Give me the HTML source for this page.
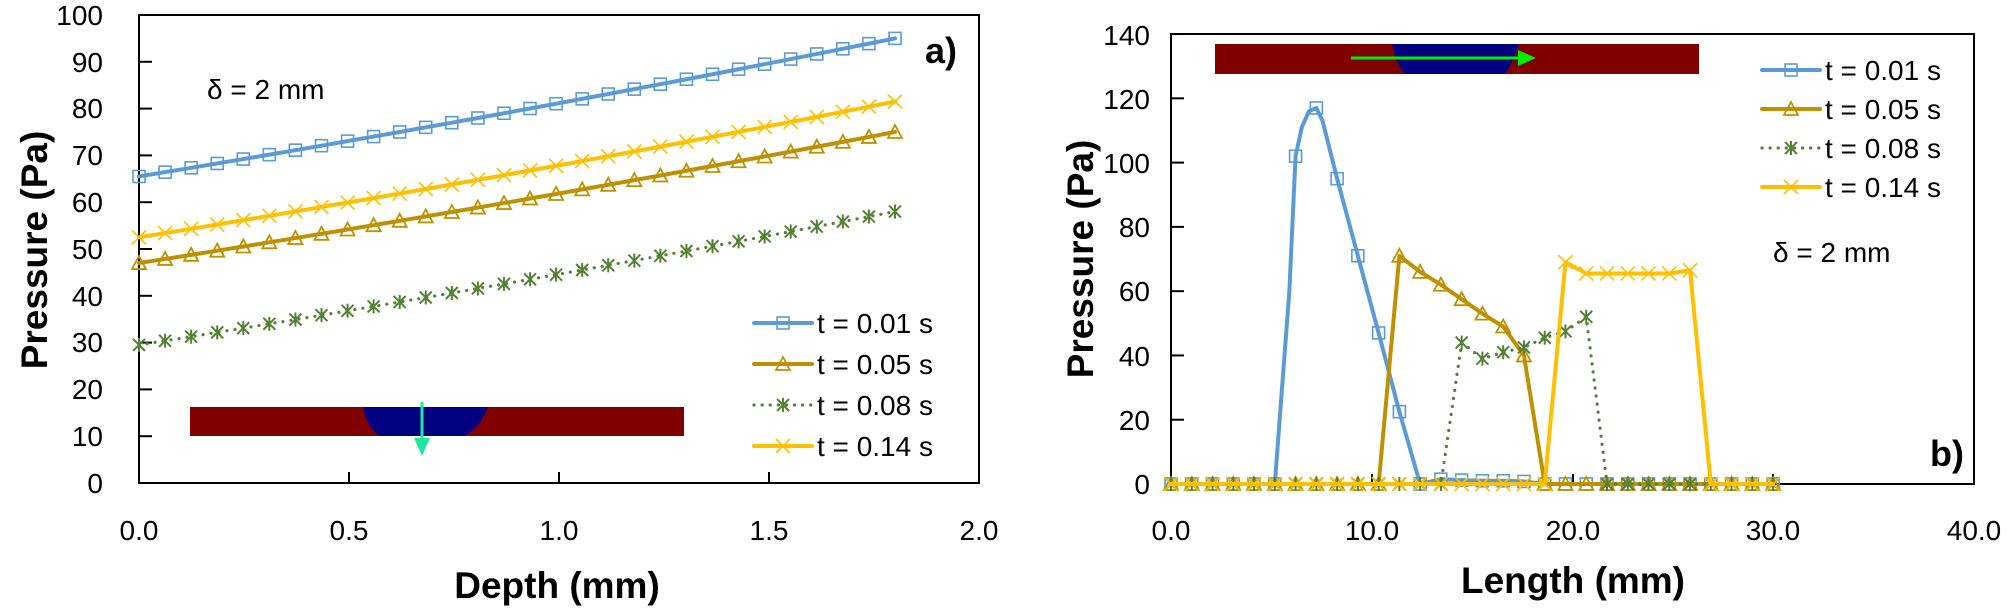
<!DOCTYPE html>
<html><head><meta charset="utf-8">
<style>
html,body{margin:0;padding:0;background:#fff;}
svg{display:block;font-family:"Liberation Sans",Arial,sans-serif;}
.t{font-size:28px;fill:#000;}
.b{font-weight:bold;}
</style></head><body>
<svg id="s" width="2007" height="609" viewBox="0 0 2007 609" xmlns="http://www.w3.org/2000/svg">
<rect width="2007" height="609" fill="#fff"/>
<rect x="139" y="15" width="840" height="468" fill="none" stroke="#000" stroke-width="2"/>
<g id="lt" stroke="#000" stroke-width="2"></g>
<g class="t" text-anchor="end">
<text x="103" y="493">0</text><text x="103" y="446">10</text><text x="103" y="399">20</text><text x="103" y="352">30</text><text x="103" y="306">40</text><text x="103" y="259">50</text><text x="103" y="212">60</text><text x="103" y="165">70</text><text x="103" y="118">80</text><text x="103" y="72">90</text><text x="103" y="25">100</text>
</g>
<g class="t" text-anchor="middle">
<text x="139" y="540">0.0</text><text x="349" y="540">0.5</text><text x="559" y="540">1.0</text><text x="769" y="540">1.5</text><text x="979" y="540">2.0</text>
</g>
<text x="557" y="598" text-anchor="middle" class="b" style="font-size:37px">Depth (mm)</text>
<text transform="translate(47,250) rotate(-90)" text-anchor="middle" class="b" style="font-size:37px">Pressure (Pa)</text>
<text x="207" y="99" class="t">δ = 2 mm</text>
<text x="925" y="63" class="b" style="font-size:36px">a)</text>
<rect x="190" y="407" width="494" height="29" fill="#800000"/>
<path d="M363,407 L488,407 Q480,428 464,436 L380,436 Q367,428 363,407Z" fill="#000080"/>
<line x1="422" y1="402" x2="422" y2="440" stroke="#1ee8a0" stroke-width="3"/>
<path d="M414,438 L430,438 L422,456Z" fill="#1ee8a0"/>
<g id="leg1"></g>
<g class="t">
<text x="817" y="333">t = 0.01 s</text><text x="817" y="374">t = 0.05 s</text><text x="817" y="415">t = 0.08 s</text><text x="817" y="456">t = 0.14 s</text>
</g>
<rect x="1171" y="34" width="803" height="450" fill="none" stroke="#000" stroke-width="2"/>
<g id="rt" stroke="#000" stroke-width="2"></g>
<g class="t" text-anchor="end">
<text x="1150" y="494">0</text><text x="1150" y="430">20</text><text x="1150" y="366">40</text><text x="1150" y="301">60</text><text x="1150" y="237">80</text><text x="1150" y="173">100</text><text x="1150" y="109">120</text><text x="1150" y="45">140</text>
</g>
<g class="t" text-anchor="middle">
<text x="1171" y="540">0.0</text><text x="1372" y="540">10.0</text><text x="1573" y="540">20.0</text><text x="1773" y="540">30.0</text><text x="1974" y="540">40.0</text>
</g>
<text x="1573" y="593" text-anchor="middle" class="b" style="font-size:37px">Length (mm)</text>
<text transform="translate(1093,259) rotate(-90)" text-anchor="middle" class="b" style="font-size:37px">Pressure (Pa)</text>
<text x="1773" y="262" class="t">δ = 2 mm</text>
<text x="1930" y="466" class="b" style="font-size:36px">b)</text>
<rect x="1215" y="44" width="484" height="30" fill="#800000"/>
<path d="M1392,44 L1519,44 Q1512,64 1505,74 L1405,74 Q1396,64 1392,44Z" fill="#000080"/>
<line x1="1351" y1="58" x2="1522" y2="58" stroke="#00ee00" stroke-width="3"/>
<path d="M1518,50 L1536,58 L1518,66Z" fill="#00ee00"/>
<g id="series"></g>
<g id="leg2"></g>
<g class="t">
<text x="1825" y="80">t = 0.01 s</text><text x="1825" y="119">t = 0.05 s</text><text x="1825" y="158">t = 0.08 s</text><text x="1825" y="197">t = 0.14 s</text>
</g>
</svg>
<script>
var NS="http://www.w3.org/2000/svg";
function el(p,tag,a){var e=document.createElementNS(NS,tag);for(var k in a)e.setAttribute(k,a[k]);p.appendChild(e);return e;}
var lt=document.getElementById('lt'),rt=document.getElementById('rt'),S=document.getElementById('series');
for(var v=10;v<=100;v+=10){var y=483-v*4.68;el(lt,'line',{x1:139,y1:y,x2:152,y2:y});}
[349,559,769].forEach(function(x){el(lt,'line',{x1:x,y1:483,x2:x,y2:472});});
for(var v=20;v<=140;v+=20){var y=484-v*3.214;el(rt,'line',{x1:1171,y1:y,x2:1184,y2:y});}
[1372,1573,1773].forEach(function(x){el(rt,'line',{x1:x,y1:484,x2:x,y2:474});});
var C={b:'#5B9BD5',g:'#BF9000',gr:'#548235',y:'#FFC000'};
function marker(p,t,x,y,c){
 if(t=='b')el(p,'rect',{x:x-6,y:y-6,width:12,height:12,fill:'none',stroke:c,'stroke-width':1.6});
 else if(t=='g')el(p,'path',{d:'M'+(x-7)+','+(y+6)+' L'+x+','+(y-7)+' L'+(x+7)+','+(y+6)+'Z',fill:'none',stroke:c,'stroke-width':1.8});
 else if(t=='gr')el(p,'path',{d:'M'+(x-6)+','+(y-6)+'L'+(x+6)+','+(y+6)+'M'+(x+6)+','+(y-6)+'L'+(x-6)+','+(y+6)+'M'+x+','+(y-7)+'L'+x+','+(y+7),fill:'none',stroke:c,'stroke-width':2});
 else el(p,'path',{d:'M'+(x-7)+','+(y-7)+'L'+(x+7)+','+(y+7)+'M'+(x+7)+','+(y-7)+'L'+(x-7)+','+(y+7),fill:'none',stroke:c,'stroke-width':1.6});
}
function lin(pts){return 'M'+pts.map(function(p){return p[0]+','+p[1];}).join(' L');}
function series(t,pts,line){var c=C[t];var a={d:lin(line||pts),fill:'none',stroke:c,'stroke-width':t=='gr'?3.2:4,'stroke-linecap':'round','stroke-linejoin':'round'};
 if(t=='gr'){a['stroke-dasharray']='0.1 8';}el(S,'path',a);pts.forEach(function(p){marker(S,t,p[0],p[1],c);});}
var L={b:[65.5,95],gr:[29.5,58],g:[47,75],y:[52.5,81.5]};
['gr','g','y','b'].forEach(function(t){var pts=[];for(var i=0;i<30;i++){var d=i*1.8/29,f=i/29;var v=L[t][0]+(L[t][1]-L[t][0])*(f*0.9+0.1*f*f);pts.push([139+d*420,483-v*4.68]);}series(t,pts);});
function arr(m){var a=[];for(var i=0;i<30;i++)a.push(m[i]||0);return a;}
var R={b:arr({6:102,7:117,8:95,9:71,10:47,11:22.5,13:1.5,14:1.2,15:1,16:1,17:0.8}),
 g:arr({11:71,12:66,13:62,14:57.5,15:53,16:49,17:40}),
 gr:arr({14:44,15:39,16:41,17:42.5,18:45.5,19:47.5,20:52}),
 y:arr({19:69,20:65.5,21:65.5,22:65.5,23:65.5,24:65.5,25:66.5})};
function X(i){return 1171+i*30/29*20.07;}
function Y(v){return 484-v*3.214;}
['b','g','gr','y'].forEach(function(t){var pts=R[t].map(function(v,i){return [X(i),Y(v)];});
 var line=null;
 if(t=='b'){line=pts.slice(0,6).concat([[X(5.7),Y(60)],[X(6),Y(102)],[X(6.3),Y(111)],[X(6.65),Y(116)],[X(7),Y(117)],[X(7.3),Y(113)]]).concat(pts.slice(8));}
 series(t,pts,line);});
function leg(g,x,ys){['b','g','gr','y'].forEach(function(t,i){var y=ys[i],c=C[t];var a={x1:x,y1:y,x2:x+58,y2:y,stroke:c,'stroke-width':t=='gr'?3.2:4,'stroke-linecap':'round'};if(t=='gr')a['stroke-dasharray']='0.1 8';el(g,'line',a);marker(g,t,x+29,y,c);});}
leg(document.getElementById('leg1'),754,[323,364,405,446]);
leg(document.getElementById('leg2'),1762,[70,109,148,187]);
</script>
</body></html>
